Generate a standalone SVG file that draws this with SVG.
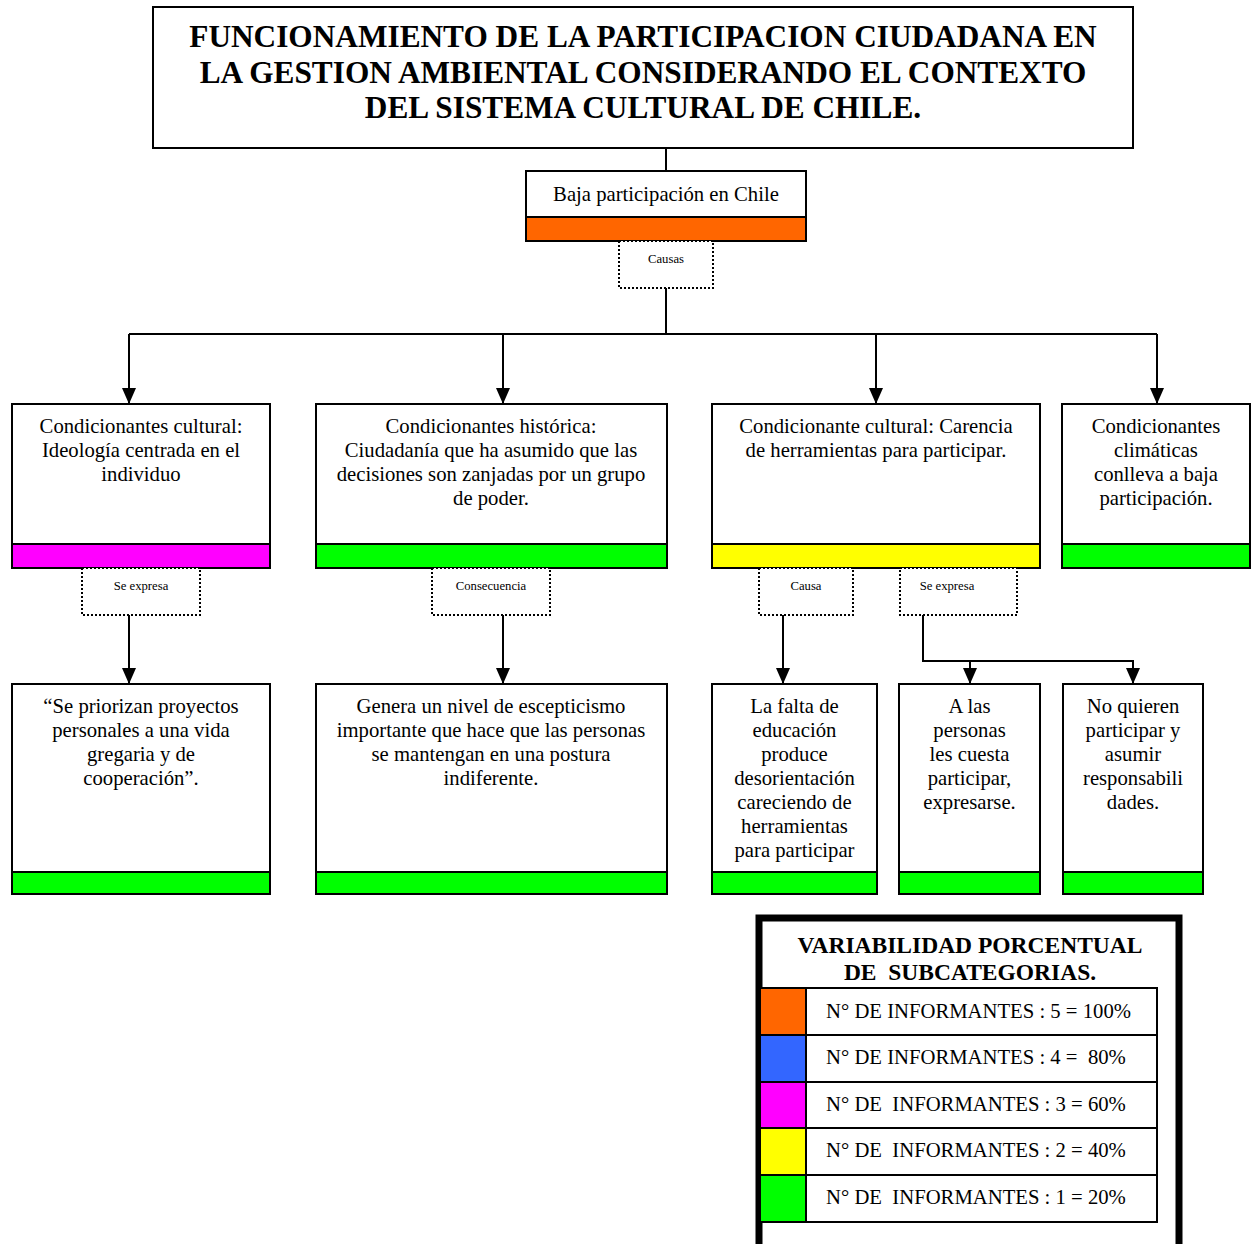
<svg xmlns="http://www.w3.org/2000/svg" width="1252" height="1244" viewBox="0 0 1252 1244">
<style>
.box{fill:#fff;stroke:#000;stroke-width:2}
.bar{stroke:#000;stroke-width:2}
.lbl{fill:#fff;stroke:#000;stroke-width:2;stroke-dasharray:2 2}
.t{font-family:"Liberation Serif","Times New Roman",serif;font-size:20.7px;fill:#000;text-anchor:middle}
.s{font-family:"Liberation Serif","Times New Roman",serif;font-size:12.7px;fill:#000;text-anchor:middle}
.h{font-family:"Liberation Serif","Times New Roman",serif;font-size:31.3px;font-weight:bold;fill:#000;text-anchor:middle}
.lh{font-family:"Liberation Serif","Times New Roman",serif;font-size:23.5px;font-weight:bold;fill:#000;text-anchor:middle;white-space:pre}
.lt{font-family:"Liberation Serif","Times New Roman",serif;font-size:20.7px;fill:#000;white-space:pre}
.c{fill:none;stroke:#000;stroke-width:2}
.or{fill:#FF6600}.bl{fill:#3366FF}.mg{fill:#FF00FF}.ye{fill:#FFFF00}.gr{fill:#00FF00}
</style>
<defs>
<marker id="arr" markerUnits="userSpaceOnUse" markerWidth="16" markerHeight="14" refX="16" refY="7" orient="auto">
<path d="M0,0 L16,7 L0,14 z" fill="#000"/>
</marker>
</defs>
<rect width="1252" height="1244" fill="#fff"/>

<g id="connectors">
<path class="c" d="M666,148 V171"/>
<path class="c" d="M666,288 V334"/>
<path class="c" d="M129,334 H1157"/>
<path class="c" d="M129,334 V404" marker-end="url(#arr)"/>
<path class="c" d="M503,334 V404" marker-end="url(#arr)"/>
<path class="c" d="M876,334 V404" marker-end="url(#arr)"/>
<path class="c" d="M1157,334 V404" marker-end="url(#arr)"/>
<path class="c" d="M129,615 V684" marker-end="url(#arr)"/>
<path class="c" d="M503,615 V684" marker-end="url(#arr)"/>
<path class="c" d="M783,615 V684" marker-end="url(#arr)"/>
<path class="c" d="M923,615 V661 H1133 V684" marker-end="url(#arr)"/>
<path class="c" d="M970,661 V684" marker-end="url(#arr)"/>
</g>

<g id="title">
<rect class="box" x="153" y="7" width="980" height="141"/>
<text class="h" x="643" y="47">FUNCIONAMIENTO DE LA PARTICIPACION CIUDADANA EN</text>
<text class="h" x="643" y="83">LA GESTION AMBIENTAL CONSIDERANDO EL CONTEXTO</text>
<text class="h" x="643" y="118">DEL SISTEMA CULTURAL DE CHILE.</text>
</g>

<g id="baja">
<rect class="box" x="526" y="171" width="280" height="46"/>
<rect class="bar or" x="526" y="217" width="280" height="24"/>
<text class="t" x="666" y="201">Baja participación en Chile</text>
</g>

<g id="lbl-causas">
<rect class="lbl" x="619" y="241" width="94" height="47"/>
<text class="s" x="666" y="263">Causas</text>
</g>

<g id="cond-cultural-ideologia">
<rect class="box" x="12" y="404" width="258" height="140"/>
<rect class="bar mg" x="12" y="544" width="258" height="24"/>
<text class="t" x="141" y="433">Condicionantes cultural:</text>
<text class="t" x="141" y="457">Ideología centrada en el</text>
<text class="t" x="141" y="481">individuo</text>
</g>

<g id="cond-historica">
<rect class="box" x="316" y="404" width="351" height="140"/>
<rect class="bar gr" x="316" y="544" width="351" height="24"/>
<text class="t" x="491" y="433">Condicionantes histórica:</text>
<text class="t" x="491" y="457">Ciudadanía que ha asumido que las</text>
<text class="t" x="491" y="481">decisiones son zanjadas por un grupo</text>
<text class="t" x="491" y="505">de poder.</text>
</g>

<g id="cond-cultural-carencia">
<rect class="box" x="712" y="404" width="328" height="140"/>
<rect class="bar ye" x="712" y="544" width="328" height="24"/>
<text class="t" x="876" y="433">Condicionante cultural: Carencia</text>
<text class="t" x="876" y="457">de herramientas para participar.</text>
</g>

<g id="cond-climaticas">
<rect class="box" x="1062" y="404" width="188" height="140"/>
<rect class="bar gr" x="1062" y="544" width="188" height="24"/>
<text class="t" x="1156" y="433">Condicionantes</text>
<text class="t" x="1156" y="457">climáticas</text>
<text class="t" x="1156" y="481">conlleva a baja</text>
<text class="t" x="1156" y="505">participación.</text>
</g>

<g id="lbl-se-expresa-1">
<rect class="lbl" x="82" y="568" width="118" height="47"/>
<text class="s" x="141" y="590">Se expresa</text>
</g>
<g id="lbl-consecuencia">
<rect class="lbl" x="432" y="568" width="118" height="47"/>
<text class="s" x="491" y="590">Consecuencia</text>
</g>
<g id="lbl-causa">
<rect class="lbl" x="759" y="568" width="94" height="47"/>
<text class="s" x="806" y="590">Causa</text>
</g>
<g id="lbl-se-expresa-2">
<rect class="lbl" x="900" y="568" width="117" height="47"/>
<text class="s" x="947" y="590">Se expresa</text>
</g>

<g id="priorizan">
<rect class="box" x="12" y="684" width="258" height="188"/>
<rect class="bar gr" x="12" y="872" width="258" height="22"/>
<text class="t" x="141" y="713">“Se priorizan proyectos</text>
<text class="t" x="141" y="737">personales a una vida</text>
<text class="t" x="141" y="761">gregaria y de</text>
<text class="t" x="141" y="785">cooperación”.</text>
</g>

<g id="escepticismo">
<rect class="box" x="316" y="684" width="351" height="188"/>
<rect class="bar gr" x="316" y="872" width="351" height="22"/>
<text class="t" x="491" y="713">Genera un nivel de escepticismo</text>
<text class="t" x="491" y="737">importante que hace que las personas</text>
<text class="t" x="491" y="761">se mantengan en una postura</text>
<text class="t" x="491" y="785">indiferente.</text>
</g>

<g id="falta-educacion">
<rect class="box" x="712" y="684" width="165" height="188"/>
<rect class="bar gr" x="712" y="872" width="165" height="22"/>
<text class="t" x="794.5" y="713">La falta de</text>
<text class="t" x="794.5" y="737">educación</text>
<text class="t" x="794.5" y="761">produce</text>
<text class="t" x="794.5" y="785">desorientación</text>
<text class="t" x="794.5" y="809">careciendo de</text>
<text class="t" x="794.5" y="833">herramientas</text>
<text class="t" x="794.5" y="857">para participar</text>
</g>

<g id="cuesta-participar">
<rect class="box" x="899" y="684" width="141" height="188"/>
<rect class="bar gr" x="899" y="872" width="141" height="22"/>
<text class="t" x="969.5" y="713">A las</text>
<text class="t" x="969.5" y="737">personas</text>
<text class="t" x="969.5" y="761">les cuesta</text>
<text class="t" x="969.5" y="785">participar,</text>
<text class="t" x="969.5" y="809">expresarse.</text>
</g>

<g id="no-quieren">
<rect class="box" x="1063" y="684" width="140" height="188"/>
<rect class="bar gr" x="1063" y="872" width="140" height="22"/>
<text class="t" x="1133" y="713">No quieren</text>
<text class="t" x="1133" y="737">participar y</text>
<text class="t" x="1133" y="761">asumir</text>
<text class="t" x="1133" y="785">responsabili</text>
<text class="t" x="1133" y="809">dades.</text>
</g>

<g id="legend">
<rect x="759" y="918" width="420" height="330" fill="#fff" stroke="#000" stroke-width="7"/>
<text class="lh" x="970" y="953">VARIABILIDAD PORCENTUAL</text>
<text class="lh" x="970" y="980">DE  SUBCATEGORIAS.</text>
<rect class="bar or" x="760" y="988" width="46" height="47"/>
<rect class="bar bl" x="760" y="1035" width="46" height="47"/>
<rect class="bar mg" x="760" y="1082" width="46" height="46"/>
<rect class="bar ye" x="760" y="1128" width="46" height="47"/>
<rect class="bar gr" x="760" y="1175" width="46" height="47"/>
<rect class="box" x="806" y="988" width="351" height="47"/>
<rect class="box" x="806" y="1035" width="351" height="47"/>
<rect class="box" x="806" y="1082" width="351" height="46"/>
<rect class="box" x="806" y="1128" width="351" height="47"/>
<rect class="box" x="806" y="1175" width="351" height="47"/>
<text class="lt" x="826" y="1018">N° DE INFORMANTES : 5 = 100%</text>
<text class="lt" x="826" y="1064">N° DE INFORMANTES : 4 =  80%</text>
<text class="lt" x="826" y="1111">N° DE  INFORMANTES : 3 = 60%</text>
<text class="lt" x="826" y="1157">N° DE  INFORMANTES : 2 = 40%</text>
<text class="lt" x="826" y="1204">N° DE  INFORMANTES : 1 = 20%</text>
</g>
</svg>
